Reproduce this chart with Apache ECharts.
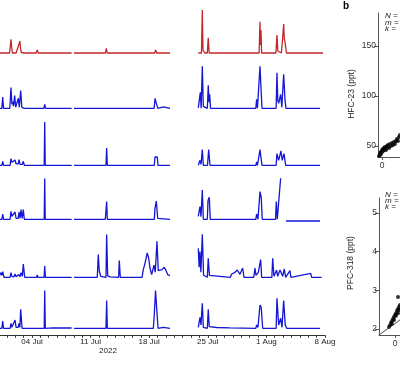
<!DOCTYPE html>
<html><head><meta charset="utf-8">
<script src="https://cdn.jsdelivr.net/npm/echarts@6/dist/echarts.min.js"></script>
<style>html,body{margin:0;padding:0;background:#fff}#c{width:400px;height:367px}</style>
</head><body><div id="c"></div>
<script>
// x values: day of July 2022 (fractional); Aug 1 = 32
const tickDays = [4, 11, 18, 25, 32, 39];
const tickLabels = ['04 Jul', '11 Jul', '18 Jul', '25 Jul', '1 Aug', '8 Aug'];
const yearLabel = '2022';

// Each row: measurement segments of [day, signal] points (signal relative to baseline)
const row1 = [
  [[0,0],[1.32,0],[1.42,8],[1.49,13.7],[1.57,6],[1.66,0],[2.10,0],[2.24,2],[2.33,1.5],[2.45,9],[2.55,12],[2.65,3],[2.74,0.5],[2.96,1.5],[3.08,0],[4.50,0],[4.63,3],[4.76,0],[8.74,0]],
  [[9.02,0],[12.78,0],[12.88,4.7],[12.98,0],[18.65,0],[18.78,3],[18.90,0],[20.49,0]],
  [[23.87,0],[24.25,0],[24.35,43],[24.43,3],[24.55,2],[24.65,0],[24.95,0],[25.06,15.3],[25.17,0],[31.14,0],[31.24,31.3],[31.30,8],[31.36,23],[31.44,0],[33.15,0],[33.27,18],[33.37,2],[33.45,0],[33.80,0],[33.95,15],[34.07,29],[34.15,14],[34.23,11],[34.40,0],[38.77,0]]
];
const row2 = [
  [[0,0],[0.40,0],[0.50,11.3],[0.60,0],[1.35,0],[1.49,20.7],[1.60,4],[1.69,6.7],[1.80,2],[1.93,12.7],[2.05,1],[2.20,0],[2.36,10],[2.48,1],[2.65,17.7],[2.78,1],[2.96,2],[3.10,0],[5.42,0],[5.52,4],[5.62,0],[8.74,0]],
  [[9.02,0],[12.86,0],[12.92,0.6],[13.0,0],[18.60,0],[18.70,10],[18.82,10.5],[18.93,9.5],[19.03,0],[19.70,1.5],[19.80,0],[20.49,0]],
  [[23.87,0.5],[23.95,0.5],[24.11,16],[24.21,0],[24.35,42],[24.47,2],[24.55,0],[24.95,0],[25.06,23],[25.16,6],[25.23,14],[25.33,0],[30.74,0],[30.84,9],[30.94,0],[31.13,0],[31.24,42],[31.39,42],[31.48,0],[33.17,0],[33.27,35.6],[33.37,8],[33.47,5],[33.71,14],[33.85,1],[33.95,3],[34.07,34],[34.23,8.3],[34.35,0],[38.41,0]]
];
const row3 = [
  [[0,0],[0.40,0],[0.50,4],[0.60,0],[1.38,0],[1.49,6.7],[1.60,3],[1.69,4.7],[1.82,2],[1.97,5.3],[2.10,1.5],[2.24,3],[2.35,1.5],[2.45,5.7],[2.57,1],[2.72,2.7],[2.85,1],[2.96,4],[3.08,0],[4.55,0],[4.63,1],[4.71,0],[5.46,0],[5.52,43.3],[5.58,0],[8.74,0]],
  [[9.02,0],[12.84,0],[12.92,17.3],[13.0,0],[18.62,0],[18.69,8.3],[18.97,8.3],[19.05,0],[20.49,0]],
  [[23.87,0],[24.07,5],[24.20,1],[24.35,15.7],[24.47,0],[24.97,0],[25.11,15.7],[25.27,0],[30.74,0],[30.84,3.3],[30.94,0],[31.14,0],[31.24,15.7],[31.36,15.7],[31.48,0],[33.17,0],[33.27,11.7],[33.47,5],[33.75,14.3],[33.90,5],[34.11,11.7],[34.31,0],[38.41,0]]
];
const row4 = [
  [[0,0],[0.40,0],[0.50,5.3],[0.60,0],[1.38,0],[1.49,8],[1.60,3],[1.69,4],[1.82,1],[1.97,7.3],[2.10,1],[2.24,2],[2.35,1],[2.45,7.3],[2.57,1],[2.69,9.7],[2.82,1],[2.96,9.7],[3.08,0],[4.55,0],[4.63,1.3],[4.71,0],[5.46,0],[5.52,40.7],[5.58,0],[8.74,0]],
  [[9.02,0],[12.76,0],[12.84,-1.5],[12.92,17.7],[13.0,0],[18.62,0],[18.69,10.7],[18.85,18.3],[19.02,1],[19.17,0],[20.49,0]],
  [[23.87,3],[24.07,12.7],[24.19,2.7],[24.35,29.3],[24.47,0],[24.95,0],[25.03,18.7],[25.18,22],[25.30,0],[29.20,0],[29.24,0.7],[29.30,0],[30.74,0],[30.84,5.3],[31.0,0],[31.14,0],[31.24,27.7],[31.39,22],[31.51,0],[33.10,0],[33.19,17.7],[33.31,0],[33.35,0],[33.71,41]],
  [[34.35,-1.7],[37.75,-1.7],[37.81,-0.8],[37.87,-1.7],[38.41,-1.7]]
];
const row5 = [
  [[0,0],[0.20,1],[0.30,4.7],[0.40,2],[0.50,5.7],[0.65,0],[1.38,0],[1.49,4.7],[1.60,1],[1.69,1.7],[1.85,0.5],[1.97,3.3],[2.10,0.5],[2.41,2.7],[2.55,0.5],[2.69,4.7],[2.85,1],[2.96,13.3],[3.13,0],[4.55,0],[4.63,2.3],[4.71,0],[5.45,0],[5.52,11.3],[5.60,0],[8.74,0]],
  [[9.02,0],[11.80,0],[11.92,22.7],[12.04,6],[12.21,1],[12.84,0],[12.92,42.7],[13.04,1.5],[13.32,0.5],[14.35,0],[14.43,16.7],[14.55,0],[17.15,0],[17.30,7.7],[17.50,14],[17.77,24.3],[17.94,19.3],[18.10,9.3],[18.30,2.7],[18.58,12.3],[18.73,5],[18.93,36],[19.09,6.7],[19.29,5.3],[19.53,7.7],[19.81,10],[20.01,6.7],[20.21,2.7],[20.49,1.7]],
  [[23.87,29],[23.97,10],[24.07,25.7],[24.18,5],[24.35,43],[24.50,2],[24.95,0],[25.06,19],[25.20,2],[25.35,0],[27.70,0],[27.86,3.3],[28.25,5],[28.53,7.3],[28.73,9.3],[28.85,3],[29.17,9.3],[29.33,0],[30.50,0],[30.64,9.3],[30.76,2],[31.04,5],[31.32,17.7],[31.44,0],[32.66,0],[32.76,19],[32.91,1],[33.23,7.3],[33.35,1],[33.63,7.3],[33.95,1],[34.14,8.3],[34.31,0],[34.82,6.7],[34.94,0],[37.30,4],[37.42,0],[38.61,0]]
];
const row6 = [
  [[0,0],[0.40,0],[0.50,7.3],[0.60,0],[1.38,0],[1.49,5],[1.60,1],[1.69,3],[1.82,1],[1.97,8.3],[2.10,1],[2.24,3],[2.35,1],[2.45,5],[2.55,1],[2.65,19],[2.81,0],[4.55,0],[4.63,1.7],[4.71,0],[5.46,0],[5.52,37.7],[5.59,0],[6.50,0.5],[8.74,0.3]],
  [[9.02,0],[12.84,0],[12.92,27.7],[13.0,0],[18.50,0],[18.61,13.3],[18.76,37.7],[18.92,37.7],[19.06,0],[19.69,1],[19.80,0],[20.49,0]],
  [[23.87,1],[24.07,11],[24.19,3.3],[24.35,25],[24.47,1],[24.95,0],[25.06,19],[25.18,1.7],[25.30,0],[26.07,0.8],[27.66,0.5],[30.74,0],[30.84,3.3],[31.0,1],[31.24,23.3],[31.39,21],[31.56,0],[33.17,0],[33.27,30],[33.47,3.3],[33.71,10],[33.87,1],[34.07,27.7],[34.26,3.3],[34.43,0],[38.41,0]]
];
const rows = [row1, row2, row3, row4, row5, row6];
const rowColors = ['#c1272d', '#1515d6', '#1515d6', '#1515d6', '#1515d6', '#1515d6'];

// Panel b scatter data (x arbitrary units, y in ppt)
const hfcPoints = [[-0.15,40],[-0.1,41],[-0.1,43],[-0.05,42],[-0.05,44],[0,44],[0,46],[0.05,45],[0.05,47],[0.1,46],[0.1,48],[0.15,47],[0.15,49],[0.2,48],[0.2,46],[0.25,50],[0.3,49],[0.3,51],[0.35,48],[0.4,52],[0.45,50],[0.5,53],[0.55,51],[0.6,54],[0.65,52],[0.7,55],[0.75,57],[0.8,55],[0.85,59],[0.9,61]];
const hfcFit = [[-0.2,39.3],[1.0,63.3]];
const pfcPoints = [[-0.15,2.05],[-0.125,2.10],[-0.1,2.16],[-0.075,2.21],[-0.075,2.13],[-0.05,2.26],[-0.025,2.31],[-0.025,2.23],[0,2.36],[0.025,2.41],[0.025,2.34],[0.05,2.47],[0.075,2.52],[0.075,2.41],[0.1,2.57],[0.125,2.62],[0.1,2.49],[0.075,2.83]];
const pfcFit = [[-0.4,1.845],[0.6,2.59]];
const hfcTicks = [50, 100, 150];
const pfcTicks = [2, 3, 4, 5];
const scatterXTicks = [0, 1, 2, 3, 4];

function joinSegments(segs) {
  const out = [];
  segs.forEach((s, i) => { if (i > 0) out.push([s[0][0] - 0.01, null]); s.forEach(p => out.push(p)); });
  return out;
}

const baselines = [53, 108.3, 165.3, 219.3, 277.3, 328.3];
const grids = [], xAxes = [], yAxes = [], series = [];
const FONT = 'Liberation Sans, Arial, sans-serif';
rows.forEach((r, i) => {
  grids.push({left: -1.48, width: 326.4, top: baselines[i] - 46, height: 48, outerBoundsMode: 'none', containLabel: false});
  const isLast = i === rows.length - 1;
  xAxes.push({
    gridIndex: i, type: 'value', min: 0, max: 39, interval: 1, show: isLast, offset: 5,
    axisLine: {onZero: false, lineStyle: {color: '#333', width: 1}},
    axisTick: {length: 2.5, lineStyle: {color: '#333'}},
    splitLine: {show: false},
    axisLabel: {customValues: tickDays, formatter: v => tickLabels[tickDays.indexOf(v)], fontSize: 8, color: '#222', margin: 2.5, fontFamily: FONT}
  });
  yAxes.push({gridIndex: i, type: 'value', min: -2, max: 46, show: false});
  series.push({
    type: 'line', xAxisIndex: i, yAxisIndex: i, data: joinSegments(r), showSymbol: false,
    connectNulls: false, lineStyle: {color: rowColors[i], width: 1.3}, itemStyle: {color: rowColors[i]}, silent: true
  });
});

// scatter grids (extend past the right edge of the picture)
grids.push({left: 378, width: 200, top: 13, height: 144, outerBoundsMode: 'none', containLabel: false});
grids.push({left: 379, width: 200, top: 198, height: 137, outerBoundsMode: 'none', containLabel: false});
const axCol = '#555';
xAxes.push({gridIndex: 6, type: 'value', min: -0.2, max: 9.8, axisLine: {onZero: false, lineStyle: {color: axCol}}, splitLine: {show: false},
  axisTick: {customValues: scatterXTicks, length: 3, lineStyle: {color: axCol}},
  axisLabel: {customValues: scatterXTicks, fontSize: 8.5, color: '#333', margin: 4, fontFamily: FONT}});
yAxes.push({gridIndex: 6, type: 'value', min: 39, max: 183, axisLine: {show: true, onZero: false, lineStyle: {color: axCol}}, splitLine: {show: false},
  axisTick: {show: true, customValues: hfcTicks, length: 4, lineStyle: {color: axCol}},
  axisLabel: {customValues: hfcTicks, fontSize: 8.5, color: '#333', margin: 2, fontFamily: FONT}});
xAxes.push({gridIndex: 7, type: 'value', min: -0.4, max: 4.6, axisLine: {onZero: false, lineStyle: {color: axCol}}, splitLine: {show: false},
  axisTick: {customValues: scatterXTicks, length: 3, lineStyle: {color: axCol}},
  axisLabel: {customValues: scatterXTicks, fontSize: 8.5, color: '#333', margin: 4, fontFamily: FONT}});
yAxes.push({gridIndex: 7, type: 'value', min: 1.845, max: 5.39, axisLine: {show: true, onZero: false, lineStyle: {color: axCol}}, splitLine: {show: false},
  axisTick: {show: true, customValues: pfcTicks, length: 4, lineStyle: {color: axCol}},
  axisLabel: {customValues: pfcTicks, fontSize: 8.5, color: '#333', margin: 2, fontFamily: FONT}});
series.push({type: 'line', xAxisIndex: 6, yAxisIndex: 6, data: hfcFit, showSymbol: false, lineStyle: {color: '#222', width: 0.8}, silent: true});
series.push({type: 'scatter', xAxisIndex: 6, yAxisIndex: 6, data: hfcPoints, symbolSize: 4, itemStyle: {color: '#000'}, silent: true});
series.push({type: 'line', xAxisIndex: 7, yAxisIndex: 7, data: pfcFit, showSymbol: false, lineStyle: {color: '#222', width: 0.8}, silent: true});
series.push({type: 'scatter', xAxisIndex: 7, yAxisIndex: 7, data: pfcPoints, symbolSize: 4, itemStyle: {color: '#000'}, silent: true});

const txt = (x, y, text, extra) => ({type: 'text', x: x, y: y, style: Object.assign({text: text, fill: '#222', font: '8px ' + FONT, align: 'center', verticalAlign: 'middle'}, extra || {})});
const graphic = [
  txt(108, 351, yearLabel),
  txt(346, 6, 'b', {font: 'bold 10px ' + FONT, fill: '#000'}),
  Object.assign(txt(352, 94, 'HFC-23 (ppt)', {font: '8.5px ' + FONT}), {rotation: Math.PI / 2}),
  Object.assign(txt(351, 263, 'PFC-318 (ppt)', {font: '8.5px ' + FONT}), {rotation: Math.PI / 2}),
  txt(385, 16, 'N =', {font: 'italic 8px ' + FONT, align: 'left'}),
  txt(385, 22.5, 'm =', {font: 'italic 8px ' + FONT, align: 'left'}),
  txt(385, 29, 'k =', {font: 'italic 8px ' + FONT, align: 'left'}),
  txt(385, 195, 'N =', {font: 'italic 8px ' + FONT, align: 'left'}),
  txt(385, 200.7, 'm =', {font: 'italic 8px ' + FONT, align: 'left'}),
  txt(385, 206.4, 'k =', {font: 'italic 8px ' + FONT, align: 'left'})
];

const chart = echarts.init(document.getElementById('c'), null, {renderer: 'canvas'});
chart.setOption({animation: false, grid: grids, xAxis: xAxes, yAxis: yAxes, series: series, graphic: graphic});
</script>
</body></html>
